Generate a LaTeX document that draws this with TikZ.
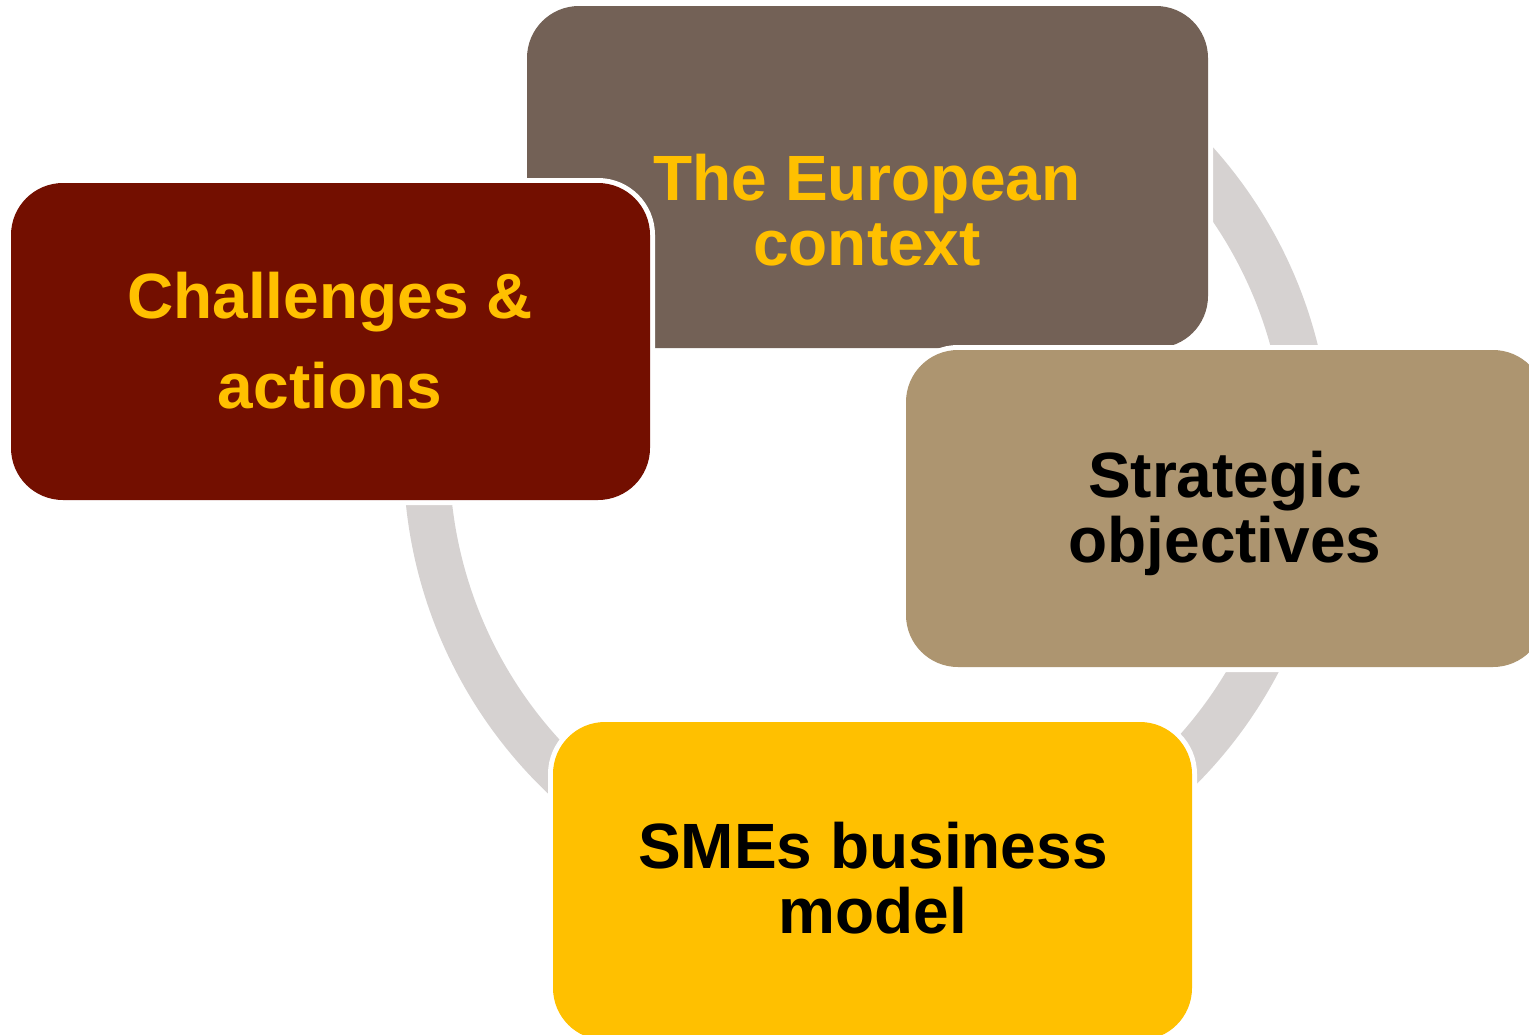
\documentclass[tikz,border=0pt]{standalone}
\usepackage{fontspec}
\setmainfont{Liberation Sans}
\definecolor{boxgrey}{RGB}{115,97,86}
\definecolor{boxred}{RGB}{115,15,0}
\definecolor{boxtan}{RGB}{173,149,112}
\definecolor{boxgold}{RGB}{255,192,0}
\definecolor{ringgray}{RGB}{214,210,209}
\tikzset{
  box/.style={rectangle, rounded corners=52pt, inner sep=0pt, outer sep=0pt,
    preaction={draw=white, line width=10pt}},
  ring/.style={draw=ringgray, line width=46pt},
  txt/.style={anchor=base, inner sep=0pt, font=\bfseries\fontsize{64}{65}\selectfont},
}
\begin{document}
\begin{tikzpicture}[x=1pt,y=-1pt]
\useasboundingbox[fill=white] (0,0) rectangle (1529,1034);
\begin{scope}[overlay]
\clip (0,0) rectangle (1529,1034);
\coordinate (c) at (867.5,457);
% ring segments
\draw[ring] (c) ++(-60:441) arc[start angle=-60, end angle=-10, radius=441];
\draw[ring] (c) ++(15:441) arc[start angle=15, end angle=60, radius=441];
\draw[ring] (c) ++(120:441) arc[start angle=120, end angle=185, radius=441];
% boxes
\node[box, fill=boxgrey, minimum width=681pt, minimum height=342pt] (ctx) at (867.5,177) {};
\node[box, fill=boxtan, minimum width=639pt, minimum height=317pt] (obj) at (1225.5,508.5) {};
\node[box, fill=boxgold, minimum width=639pt, minimum height=318pt] (sme) at (872.5,881) {};
\node[box, fill=boxred, minimum width=639pt, minimum height=317pt] (cha) at (330.5,341.5) {};
% texts
\node[txt, text=boxgold] (tctx) at (867,200) {\begin{tabular}[t]{@{}c@{}}The European\\context\end{tabular}};
\node[txt, text=black] (tobj) at (1225,497) {\begin{tabular}[t]{@{}c@{}}Strategic\\objectives\end{tabular}};
\node[txt, text=black] (tsme) at (873,868) {\begin{tabular}[t]{@{}c@{}}SMEs business\\model\end{tabular}};
\node[txt, text=boxgold, font=\bfseries\fontsize{64}{90}\selectfont] (tcha) at (330,318) {\begin{tabular}[t]{@{}c@{}}Challenges \&\\actions\end{tabular}};
\end{scope}
\end{tikzpicture}
\end{document}
